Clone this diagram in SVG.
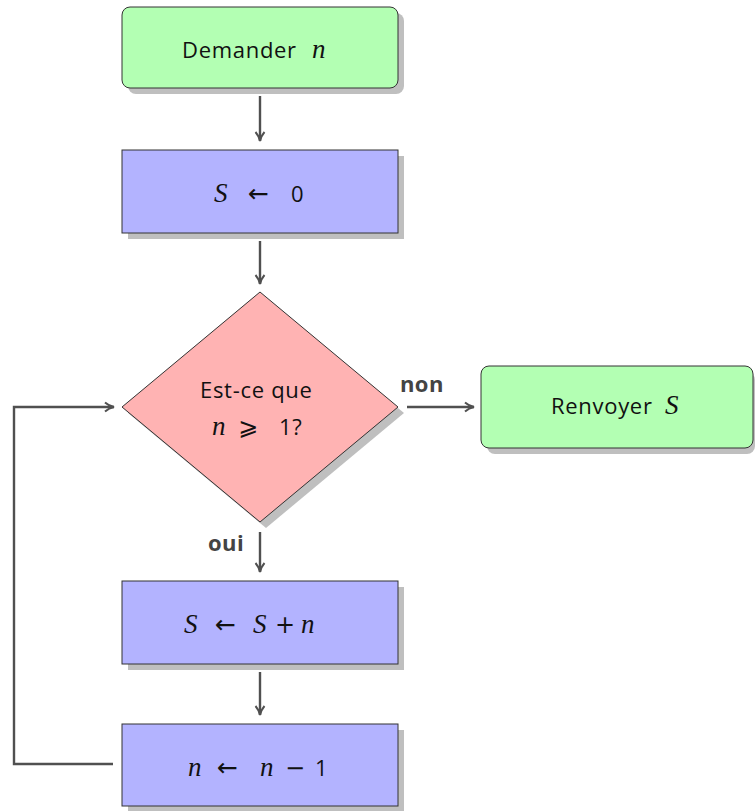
<svg xmlns="http://www.w3.org/2000/svg" width="755" height="811" viewBox="0 0 755 811">
<style>
.sh{fill:#bfbfbf}
.g{fill:#b3ffb3;stroke:#333;stroke-width:1}
.b{fill:#b3b3ff;stroke:#333;stroke-width:1}
.p{fill:#ffb3b3;stroke:#333;stroke-width:1}
.t{font-family:"Open Sans","DejaVu Sans",sans-serif;font-size:22px;letter-spacing:0.7px;fill:#111}
.m{font-family:"Liberation Serif","DejaVu Serif",serif;font-style:italic;font-size:27px;letter-spacing:0}
.r{font-family:"DejaVu Sans",sans-serif;font-size:24px;letter-spacing:0}
.a{font-family:"DejaVu Sans",sans-serif;font-size:25px;letter-spacing:0}
.lbl{font-family:"Open Sans","DejaVu Sans",sans-serif;font-size:22px;letter-spacing:0.4px;font-weight:bold;fill:#444}
.c{fill:none;stroke:#505050;stroke-width:2.4}
</style>
<defs>
<marker id="ah" markerWidth="12" markerHeight="12" refX="10" refY="6" orient="auto" markerUnits="userSpaceOnUse">
<path d="M1,1.5 Q5,5 10,6 Q5,7 1,10.5" fill="none" stroke="#505050" stroke-width="2"/>
</marker>
</defs>
<g id="connectors">
<path class="c" d="M260,96 V141" marker-end="url(#ah)"/>
<path class="c" d="M260,241 V284" marker-end="url(#ah)"/>
<path class="c" d="M407,407 H474" marker-end="url(#ah)"/>
<path class="c" d="M260,532 V572" marker-end="url(#ah)"/>
<path class="c" d="M260,672 V715" marker-end="url(#ah)"/>
<path class="c" d="M113,764 H14 V407 H114" marker-end="url(#ah)"/>
<text class="lbl" x="400" y="392">non</text>
<text class="lbl" x="208" y="551">oui</text>
</g>
<g id="n1">
<rect class="sh" x="128" y="13" width="276" height="81" rx="8"/>
<rect class="g" x="122" y="7" width="276" height="81" rx="8"/>
<text class="t" x="182" y="58">Demander<tspan class="m" x="312">n</tspan></text>
</g>
<g id="n2">
<rect class="sh" x="128" y="156" width="276" height="83"/>
<rect class="b" x="122" y="150" width="276" height="83"/>
<text class="t" x="214" y="202"><tspan class="m">S</tspan><tspan class="a" x="248">←</tspan><tspan x="291">0</tspan></text>
</g>
<g id="n3">
<polygon class="sh" points="266,298 404,413 266,528 128,413"/>
<polygon class="p" points="260,292 398,407 260,522 122,407"/>
<text class="t" x="200" y="398">Est-ce que</text>
<text class="t" x="212" y="435"><tspan class="m">n</tspan><tspan class="r" x="238">⩾</tspan><tspan x="279">1?</tspan></text>
</g>
<g id="n4">
<rect class="sh" x="487" y="372" width="268" height="82" rx="8"/>
<rect class="g" x="481" y="366" width="272" height="82" rx="8"/>
<text class="t" x="551" y="414">Renvoyer<tspan class="m" x="665">S</tspan></text>
</g>
<g id="n5">
<rect class="sh" x="128" y="587" width="276" height="83"/>
<rect class="b" x="122" y="581" width="276" height="83"/>
<text class="t" x="184" y="633"><tspan class="m">S</tspan><tspan class="a" x="215">←</tspan><tspan class="m" x="253">S</tspan><tspan class="r" x="275">+</tspan><tspan class="m" x="301">n</tspan></text>
</g>
<g id="n6">
<rect class="sh" x="128" y="730" width="276" height="81"/>
<rect class="b" x="122" y="724" width="276" height="82"/>
<text class="t" x="188" y="776"><tspan class="m">n</tspan><tspan class="a" x="217">←</tspan><tspan class="m" x="260">n</tspan><tspan class="r" x="285">−</tspan><tspan x="315">1</tspan></text>
</g>
</svg>
